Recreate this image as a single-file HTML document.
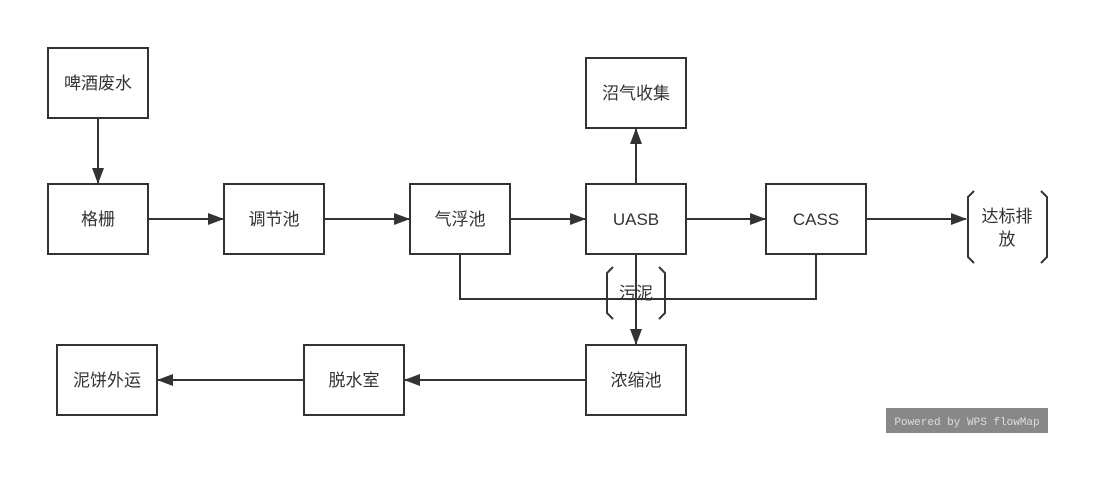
<!DOCTYPE html>
<html><head><meta charset="utf-8"><style>
html,body{margin:0;padding:0;background:#fff;}
svg{display:block;}
text{font-family:"Liberation Sans","Noto Sans CJK SC",sans-serif;font-size:17px;fill:#333;}
</style></head><body>
<svg width="1110" height="477" viewBox="0 0 1110 477" xmlns="http://www.w3.org/2000/svg">
<defs><marker id="a" markerWidth="16" markerHeight="12" refX="15" refY="6" orient="auto" markerUnits="userSpaceOnUse"><path d="M0,0 L16,6 L0,12 Z" fill="#333"/></marker></defs>
<g fill="#fff" stroke="#333" stroke-width="2">
<rect x="48" y="48" width="100" height="70"/>
<rect x="48" y="184" width="100" height="70"/>
<rect x="224" y="184" width="100" height="70"/>
<rect x="410" y="184" width="100" height="70"/>
<rect x="586" y="184" width="100" height="70"/>
<rect x="766" y="184" width="100" height="70"/>
<rect x="586" y="58" width="100" height="70"/>
<rect x="586" y="345" width="100" height="70"/>
<rect x="304" y="345" width="100" height="70"/>
<rect x="57" y="345" width="100" height="70"/>
</g>
<g stroke="#333" stroke-width="2" fill="none">
<line x1="98" y1="118" x2="98" y2="183" marker-end="url(#a)"/>
<line x1="148" y1="219" x2="223" y2="219" marker-end="url(#a)"/>
<line x1="324" y1="219" x2="409" y2="219" marker-end="url(#a)"/>
<line x1="510" y1="219" x2="585" y2="219" marker-end="url(#a)"/>
<line x1="686" y1="219" x2="765" y2="219" marker-end="url(#a)"/>
<line x1="866" y1="219" x2="966" y2="219" marker-end="url(#a)"/>
<line x1="636" y1="184" x2="636" y2="129" marker-end="url(#a)"/>
<polyline points="460,254 460,299 816,299 816,254"/>
<line x1="636" y1="254" x2="636" y2="344" marker-end="url(#a)"/>
<line x1="585" y1="380" x2="405" y2="380" marker-end="url(#a)"/>
<line x1="304" y1="380" x2="158" y2="380" marker-end="url(#a)"/>
<path d="M613,267 L607,273 L607,313 L613,319"/>
<path d="M659,267 L665,273 L665,313 L659,319"/>
<path d="M974,191 L968,197 L968,257 L974,263"/>
<path d="M1041,191 L1047,197 L1047,257 L1041,263"/>
</g>
<g text-anchor="middle">
<text x="98" y="89">啤酒废水</text>
<text x="98" y="225">格栅</text>
<text x="274" y="225">调节池</text>
<text x="460" y="225">气浮池</text>
<text x="636" y="225">UASB</text>
<text x="816" y="225">CASS</text>
<text x="636" y="99">沼气收集</text>
<text x="636" y="386">浓缩池</text>
<text x="354" y="386">脱水室</text>
<text x="107" y="386">泥饼外运</text>
<text x="636" y="299">污泥</text>
<text x="1007" y="222">达标排</text>
<text x="1007" y="245">放</text>
</g>
<rect x="886" y="408" width="162" height="25" fill="#888"/>
<text x="967" y="425" text-anchor="middle" style="font-family:'Liberation Mono',monospace;font-size:11px;fill:#ddd;">Powered by WPS flowMap</text>
</svg>
</body></html>
